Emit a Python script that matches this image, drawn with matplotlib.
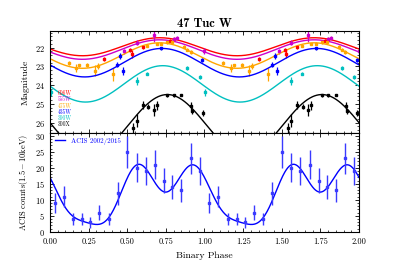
import numpy as np
import matplotlib
matplotlib.use("Agg")
import matplotlib.pyplot as plt
from matplotlib.ticker import MultipleLocator, FormatStrFormatter

plt.rcParams["font.family"] = ["cmr10", "DejaVu Serif"]
plt.rcParams["mathtext.fontset"] = "cm"
plt.rcParams["axes.formatter.use_mathtext"] = True
plt.rcParams["axes.unicode_minus"] = False

# --- optical light curves (phase 0-1, repeated for 1-2) ---
filters = ["606W", "555W", "475W", "435W", "390W", "300X"]
colors = ["#ff0000", "#cc00cc", "#ffa500", "#0000ff", "#00c0c0", "#000000"]

phase_606 = [0.35, 0.52, 0.53, 0.60, 0.78, 0.80]
mag_606 = [22.62, 22.12, 22.35, 21.98, 21.62, 21.55]
err_606 = [0.10, 0.12, 0.20, 0.08, 0.08, 0.08]

phase_555 = [0.48, 0.56, 0.67, 0.80, 0.82, 0.998]
mag_555 = [22.2, 21.73, 21.34, 21.52, 21.47, 22.18]
err_555 = [0.12, 0.12, 0.35, 0.10, 0.08, 0.14]

phase_475 = [0.12, 0.17, 0.19, 0.24, 0.29, 0.31, 0.41, 0.63, 0.69, 0.72,
             0.76, 0.79, 0.87, 0.89, 0.91]
mag_475 = [22.8, 23.08, 22.95, 22.93, 23.22, 22.99, 23.43, 21.9, 21.82, 21.78,
           21.72, 21.7, 21.95, 22.1, 22.22]
err_475 = [0.10, 0.20, 0.10, 0.12, 0.30, 0.15, 0.35, 0.08, 0.06, 0.06,
           0.06, 0.06, 0.08, 0.10, 0.10]

phase_435 = [0.435, 0.455, 0.47, 0.72, 0.985]
mag_435 = [22.9, 22.45, 23.25, 22.04, 22.67]
err_435 = [0.15, 0.15, 0.20, 0.06, 0.10]

phase_390 = [0.005, 0.56, 0.63, 0.89, 0.97]
mag_390 = [24.38, 23.77, 23.38, 23.1, 23.56]
err_390 = [0.20, 0.20, 0.10, 0.10, 0.12]

phase_300 = [0.54, 0.56, 0.60, 0.635, 0.67, 0.69, 0.76, 0.80, 0.85, 0.915,
             0.92, 0.99]
mag_300 = [26.3, 25.89, 25.05, 25.14, 25.32, 25.08, 24.55, 24.55, 24.51, 25.1,
           25.4, 25.5]
err_300 = [0.30, 0.35, 0.20, 0.15, 0.30, 0.25, 0.08, 0.08, 0.05, 0.20,
           0.15, 0.15]

# sinusoid fits: mean mag, semi-amplitude, phase of maximum light
fit_mean = [21.95, 22.10, 22.42, 22.80, 23.93, 26.10]
fit_amp = [0.48, 0.52, 0.68, 0.76, 0.97, 1.60]
fit_peak = [0.71, 0.71, 0.71, 0.725, 0.73, 0.76]

# --- X-ray (ACIS) folded counts ---
xray_phase = [0.03, 0.09, 0.15, 0.21, 0.26, 0.32, 0.38, 0.44, 0.50,
              0.56, 0.62, 0.68, 0.74, 0.79, 0.85, 0.91, 0.97]
xray_counts = [9, 11, 4, 4, 3, 6, 4, 12, 25, 20, 19, 21, 16, 14, 13, 23, 19]
xray_err = [3.0, 3.3, 2.0, 2.0, 1.7, 2.4, 2.0, 3.5, 5.0, 4.5, 4.4, 4.6,
            4.0, 3.7, 3.6, 4.8, 4.4]
# Fourier fit: c0, (a1, b1), (a2, b2), (a3, b3)
xray_c0 = 12.23
xray_a = [0.37, 4.65, -0.265]
xray_b = [-7.5, 0.455, -2.67]

opt_data = [
    (phase_606, mag_606, err_606),
    (phase_555, mag_555, err_555),
    (phase_475, mag_475, err_475),
    (phase_435, mag_435, err_435),
    (phase_390, mag_390, err_390),
    (phase_300, mag_300, err_300),
]


def fold2(phase, *vals):
    """Повторяет точки на второй цикл фазы."""
    p = np.asarray(phase)
    out = [np.concatenate([p, p + 1])]
    for v in vals:
        v = np.asarray(v)
        out.append(np.concatenate([v, v]))
    return out


def style_axis(ax):
    ax.tick_params(which="both", direction="in", top=True, right=True,
                   labelsize=6)
    ax.tick_params(which="major", length=3, width=0.6)
    ax.tick_params(which="minor", length=1.5, width=0.5)
    for s in ax.spines.values():
        s.set_linewidth(0.8)


fig = plt.figure(figsize=(3.99, 2.62), dpi=100)
ax1 = fig.add_axes([0.1253, 0.4924, 0.7744, 0.3893])
ax2 = fig.add_axes([0.1253, 0.1126, 0.7744, 0.3798])

ph = np.linspace(0, 2, 600)
for (p, m, e), c, m0, amp, pk in zip(opt_data, colors, fit_mean, fit_amp, fit_peak):
    ax1.plot(ph, m0 - amp * np.cos(2 * np.pi * (ph - pk)), color=c, lw=1.0)
    x, y, ye = fold2(p, m, e)
    ax1.errorbar(x, y, yerr=ye, fmt="s", color=c, ms=1.8, elinewidth=0.9,
                 capsize=0)

label_y = [0.389, 0.333, 0.268, 0.203, 0.144, 0.085]
for name, c, y in zip(filters, colors, label_y):
    ax1.text(0.025, y, name, color=c, fontsize=4, transform=ax1.transAxes,
             va="center", ha="left")

ax1.set_xlim(0, 2)
ax1.set_ylim(26.55, 21.11)
ax1.xaxis.set_major_locator(MultipleLocator(0.25))
ax1.xaxis.set_minor_locator(MultipleLocator(0.05))
ax1.yaxis.set_major_locator(MultipleLocator(1))
ax1.yaxis.set_minor_locator(MultipleLocator(0.2))
ax1.set_xticklabels([])
ax1.set_ylabel("Magnitude", fontsize=7, labelpad=4)
ax1.set_title("47 Tuc W", fontsize=9, family="cmb10", pad=3)
style_axis(ax1)

# X-ray panel
fourier = np.full_like(ph, xray_c0)
for k, (a, b) in enumerate(zip(xray_a, xray_b), start=1):
    fourier += a * np.cos(2 * np.pi * k * ph) + b * np.sin(2 * np.pi * k * ph)
ax2.plot(ph, fourier, color="#0000ff", lw=1.0, label="ACIS 2002/2015")
x, y, ye = fold2(xray_phase, xray_counts, xray_err)
ax2.errorbar(x, y, yerr=ye, fmt="s", color="#3a3aff", ms=1.8,
             elinewidth=1.0, capsize=0)
ax2.set_xlim(0, 2)
ax2.set_ylim(-0.2, 30.85)
ax2.xaxis.set_major_locator(MultipleLocator(0.25))
ax2.xaxis.set_minor_locator(MultipleLocator(0.05))
ax2.xaxis.set_major_formatter(FormatStrFormatter("%.2f"))
ax2.yaxis.set_major_locator(MultipleLocator(5))
ax2.yaxis.set_minor_locator(MultipleLocator(1))
ax2.set_xlabel("Binary Phase", fontsize=7, labelpad=4)
ax2.set_ylabel(r"ACIS counts$(1.5-10\mathrm{keV})$", fontsize=6, labelpad=4)
ax2.legend(loc="upper left", frameon=False, fontsize=5, labelcolor="#0000ff",
           handlelength=1.5, borderaxespad=0.3)
style_axis(ax2)

fig.savefig("out.png", dpi=100)
plt.close(fig)
